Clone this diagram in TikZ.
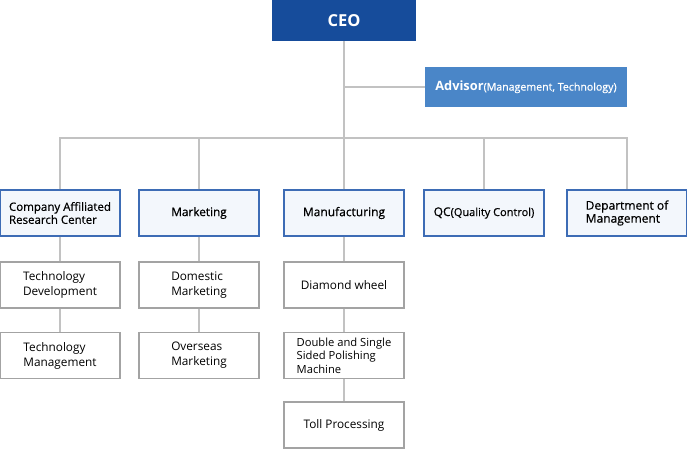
\documentclass[tikz,border=0pt]{standalone}
\usepackage{fontspec}
\setmainfont{Open Sans}
\newfontfamily\medfont[FakeBold=0.6]{Open Sans}

\definecolor{CeoBlue}{HTML}{164C9B}
\definecolor{AdvBlue}{HTML}{4A86C8}
\definecolor{DeptLine}{HTML}{3D6CB5}
\definecolor{DeptFill}{HTML}{F3F7FC}
\definecolor{TeamLine}{HTML}{A3A3A3}
\definecolor{LinkGray}{HTML}{C2C2C2}

\tikzset{
    ceobox/.style={fill=CeoBlue, text=white, minimum width=144pt, minimum height=41pt,
        font=\fontsize{16.5}{19}\selectfont\bfseries},
    advbox/.style={fill=AdvBlue, text=white, minimum width=202pt, minimum height=40pt},
    deptbox/.style={draw=DeptLine, fill=DeptFill, line width=1.2pt, minimum width=120pt,
        minimum height=46pt, align=left, inner sep=2pt, font=\fontsize{11.5}{13}\selectfont\medfont},
    teambox/.style={draw=TeamLine, line width=1.1pt, minimum width=120pt, minimum height=46pt,
        align=left, inner sep=2pt, font=\fontsize{11.8}{15}\selectfont},
    link/.style={draw=LinkGray, line width=1.5pt},
}

\begin{document}
\begin{tikzpicture}[x=1pt,y=-1pt]

    \useasboundingbox (0,0) rectangle (687,448);

    \node[ceobox] (CEO) at (344,20.5) {CEO};
    \node[advbox] (Advisor) at (526,87)
    {{\fontsize{12.8}{15}\selectfont\bfseries Advisor}{\fontsize{10.6}{15}\selectfont\medfont(Management, Technology)}};

    \coordinate (Bus) at (344,138);

    \node[deptbox] (ResCenter) at (60,213) {Company Affiliated\\Research Center};
    \node[deptbox, font=\fontsize{11.8}{13}\selectfont\medfont] (Mktg) at (199,213) {Marketing};
    \node[deptbox, font=\fontsize{12}{13}\selectfont\medfont] (Manuf) at (344,213) {Manufacturing};
    \node[deptbox, font=\fontsize{12}{13}\selectfont\medfont] (QualCtrl) at (484,213)
    {QC{\fontsize{11}{13}\selectfont(Quality Control)}};
    \node[deptbox, font=\fontsize{12}{13}\selectfont\medfont] (DeptMgmt) at (627,213) {Department of\\Management};

    \node[teambox] (TechDev) at (60,285) {Technology\\Development};
    \node[teambox] (TechMgmt) at (60,355.5) {Technology\\Management};
    \node[teambox] (DomMktg) at (199,285) {Domestic\\Marketing};
    \node[teambox] (OvsMktg) at (199,355.5) {Overseas\\Marketing};
    \node[teambox] (DiaWheel) at (344,285) {Diamond wheel};
    \node[teambox, font=\fontsize{11.2}{13.5}\selectfont] (PolMach) at (344,355.5)
    {Double and Single\\Sided Polishing\\Machine};
    \node[teambox] (TollProc) at (344,425) {Toll Processing};

    \draw[link] (CEO.south) -- (Bus);
    \draw[link] (CEO.south |- Advisor.west) -- (Advisor.west);
    \draw[link] (ResCenter.north) |- (Bus) -| (DeptMgmt.north);
    \foreach \dept in {Mktg,Manuf,QualCtrl}
        \draw[link] (\dept.north) -- (\dept.north |- Bus);

    \draw[link] (ResCenter) -- (TechDev) -- (TechMgmt);
    \draw[link] (Mktg) -- (DomMktg) -- (OvsMktg);
    \draw[link] (Manuf) -- (DiaWheel) -- (PolMach) -- (TollProc);

\end{tikzpicture}
\end{document}
